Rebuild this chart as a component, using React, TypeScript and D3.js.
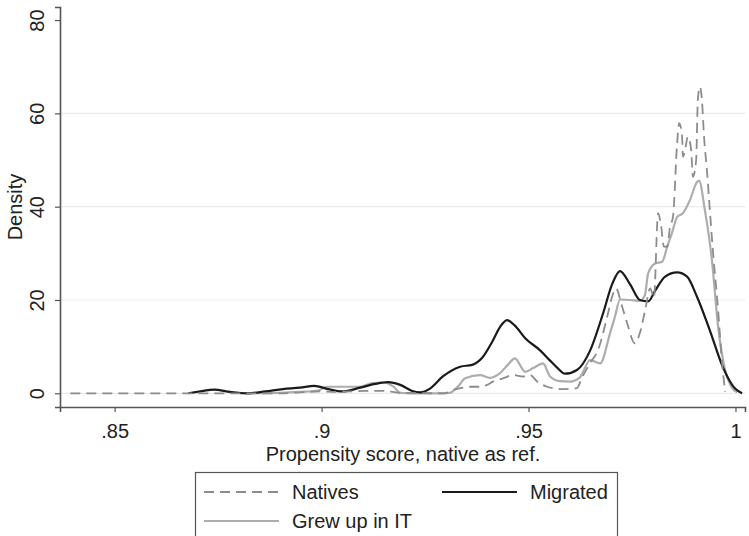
import React, { useEffect, useRef } from 'react';
import * as d3 from 'd3';

// density estimates: [propensity score, density]
const natives: [number, number][] = [
  [0.8393, 0], [0.8900, 0], [0.8948, 0.2], [0.8996, 0.4], [0.9033, 0.3], [0.9069, 0.4],
  [0.9105, 0.5], [0.9153, 0.5], [0.9190, 0.1], [0.9298, 0], [0.9315, 0.6], [0.9335, 1.1],
  [0.9359, 1.4], [0.9383, 1.4], [0.9400, 1.8], [0.9414, 2.5], [0.9438, 3.2], [0.9463, 3.9],
  [0.9487, 3.6], [0.9504, 3.9], [0.9521, 2.5], [0.9545, 1.4], [0.9559, 1.1], [0.9583, 0.9],
  [0.9617, 1.1], [0.9629, 3.3], [0.9649, 6.5], [0.9668, 9.3], [0.9690, 16.4], [0.9702, 20.7],
  [0.9711, 22.5], [0.9726, 18.6], [0.9738, 15.1], [0.9757, 10.7], [0.9769, 12.9], [0.9781, 17.5],
  [0.9794, 22.5], [0.9803, 20.5], [0.9813, 38.6], [0.9820, 36.0], [0.9827, 31.5], [0.9835, 31.4],
  [0.9842, 35.7], [0.9849, 37.8], [0.9859, 53.6], [0.9864, 57.9], [0.9871, 55.0], [0.9873, 50.7],
  [0.9878, 52.1], [0.9885, 55.0], [0.9893, 52.1], [0.9897, 46.4], [0.9905, 50.0], [0.9909, 62.8],
  [0.9914, 65.7], [0.9919, 62.8], [0.9924, 55.0], [0.9931, 47.8], [0.9938, 39.3], [0.9946, 30.0],
  [0.9958, 17.9], [0.9967, 7.1], [0.9975, 0.3],
];

const migrated: [number, number][] = [
  [0.8678, 0], [0.8707, 0.4], [0.8740, 0.8], [0.8779, 0.3], [0.8822, 0], [0.8864, 0.4],
  [0.8907, 0.9], [0.8948, 1.2], [0.8982, 1.6], [0.9016, 0.9], [0.9050, 0.4], [0.9093, 1.2],
  [0.9129, 2.0], [0.9161, 2.4], [0.9190, 1.8], [0.9219, 0.5], [0.9238, 0.2], [0.9262, 1.0],
  [0.9293, 3.6], [0.9335, 5.7], [0.9364, 6.1], [0.9388, 7.6], [0.9412, 11.0], [0.9431, 14.2],
  [0.9448, 15.7], [0.9467, 14.5], [0.9492, 11.8], [0.9528, 9.2], [0.9552, 7.0], [0.9569, 5.5],
  [0.9588, 4.2], [0.9617, 5.0], [0.9649, 9.2], [0.9680, 17.1], [0.9702, 23.4], [0.9721, 26.2],
  [0.9745, 23.4], [0.9769, 20.0], [0.9789, 19.7], [0.9806, 22.0], [0.9830, 25.0], [0.9859, 25.9],
  [0.9883, 25.0], [0.9907, 20.7], [0.9938, 13.5], [0.9970, 5.5], [0.9999, 1.0], [1.0016, 0],
];

const grewUp: [number, number][] = [
  [0.8803, 0], [0.8900, 0.1], [0.8948, 0.3], [0.8992, 0.6], [0.9013, 1.4], [0.9057, 1.4],
  [0.9093, 1.4], [0.9124, 2.2], [0.9153, 2.3], [0.9173, 1.5], [0.9190, 0.1], [0.9214, 0],
  [0.9286, 0], [0.9310, 0.1], [0.9330, 1.5], [0.9347, 3.2], [0.9383, 3.9], [0.9407, 3.3],
  [0.9431, 4.3], [0.9451, 6.2], [0.9467, 7.5], [0.9492, 4.6], [0.9511, 5.4], [0.9535, 6.4],
  [0.9552, 3.6], [0.9576, 2.6], [0.9600, 2.5], [0.9624, 3.4], [0.9649, 7.1], [0.9673, 6.4],
  [0.9697, 12.9], [0.9709, 16.5], [0.9721, 20.1], [0.9745, 20.0], [0.9769, 19.8], [0.9781, 21.0],
  [0.9789, 25.7], [0.9806, 27.8], [0.9823, 28.2], [0.9835, 31.4], [0.9847, 34.5], [0.9859, 37.8],
  [0.9873, 38.6], [0.9890, 41.4], [0.9907, 45.3], [0.9912, 45.6], [0.9926, 39.3], [0.9943, 28.6],
  [0.9958, 14.3], [0.9975, 5.0], [0.9989, 1.5], [1.0004, 0.2],
];

const xTicks = [0.85, 0.9, 0.95, 1];
const xTickLabels = ['.85', '.9', '.95', '1'];
const yTicks = [0, 20, 40, 60, 80];
const gridValues = [0, 20, 40, 60];

const legendItems = [
  { label: 'Natives', data: natives, color: '#8c8c8c', width: 1.8, dash: '10,6' },
  { label: 'Migrated', data: migrated, color: '#1a1a1a', width: 2.2, dash: null },
  { label: 'Grew up in IT', data: grewUp, color: '#adadad', width: 2.2, dash: null },
];

const W = 749, H = 536;
const FONT = '"Liberation Sans", Arial, sans-serif';

export default function App() {
  const ref = useRef<SVGSVGElement>(null);

  useEffect(() => {
    const svg = d3.select(ref.current);
    svg.selectAll('*').remove();

    const x = d3.scaleLinear().domain([0.8368, 1.0023]).range([60, 745]);
    const y = d3.scaleLinear().domain([-2.94, 82.8]).range([407, 7]);

    svg.append('rect').attr('width', W).attr('height', H).attr('fill', '#fff');

    // horizontal grid
    svg.append('g').selectAll('line')
      .data(gridValues)
      .enter().append('line')
        .attr('x1', x.range()[0]).attr('x2', x.range()[1])
        .attr('y1', d => y(d)).attr('y2', d => y(d))
        .attr('stroke', '#ebebeb').attr('stroke-width', 1.2);

    // density curves (grew up first, natives on top)
    const line = d3.line<[number, number]>()
      .x(d => x(d[0]))
      .y(d => y(d[1]))
      .curve(d3.curveMonotoneX);

    const order = [legendItems[2], legendItems[1], legendItems[0]];
    order.forEach(s => {
      svg.append('path')
        .datum(s.data)
        .attr('d', line)
        .attr('fill', 'none')
        .attr('stroke', s.color)
        .attr('stroke-width', s.width)
        .attr('stroke-dasharray', s.dash)
        .attr('stroke-linejoin', 'round');
    });

    // y axis
    const yAxis = svg.append('g')
      .attr('transform', 'translate(60,0)')
      .call(d3.axisLeft(y).tickValues(yTicks).tickSize(5).tickFormat(d3.format('d')));
    yAxis.select('.domain').attr('stroke', '#555').attr('stroke-width', 1.6);
    yAxis.selectAll('.tick line').attr('stroke', '#555').attr('stroke-width', 1.2);
    yAxis.selectAll('.tick text')
      .attr('font-family', FONT).attr('font-size', 20).attr('fill', '#222')
      .attr('x', 0).attr('dy', 0)
      .attr('text-anchor', 'middle')
      .attr('transform', 'translate(-16,0) rotate(-90)');

    // x axis
    const xAxis = svg.append('g')
      .attr('transform', 'translate(0,407)')
      .call(d3.axisBottom(x).tickValues(xTicks).tickSize(5)
        .tickFormat((d, i) => xTickLabels[i]));
    xAxis.select('.domain').attr('stroke', '#555').attr('stroke-width', 1.6);
    xAxis.selectAll('.tick line').attr('stroke', '#555').attr('stroke-width', 1.2);
    xAxis.selectAll('.tick text')
      .attr('font-family', FONT).attr('font-size', 20).attr('fill', '#222')
      .attr('y', 31).attr('dy', 0);

    // axis titles
    svg.append('text')
      .attr('x', 403).attr('y', 461)
      .attr('text-anchor', 'middle')
      .attr('font-family', FONT).attr('font-size', 20).attr('fill', '#222')
      .text('Propensity score, native as ref.');
    svg.append('text')
      .attr('transform', 'translate(22,207) rotate(-90)')
      .attr('text-anchor', 'middle')
      .attr('font-family', FONT).attr('font-size', 20).attr('fill', '#222')
      .text('Density');

    // legend
    const lg = svg.append('g');
    lg.append('rect')
      .attr('x', 195.5).attr('y', 472.5).attr('width', 422).attr('height', 90)
      .attr('fill', '#fff').attr('stroke', '#555').attr('stroke-width', 1.2);
    const slots = [
      { sx: 204, tx: 292, cy: 492 },
      { sx: 442, tx: 530, cy: 492 },
      { sx: 204, tx: 292, cy: 521 },
    ];
    legendItems.forEach((s, i) => {
      const p = slots[i];
      lg.append('line')
        .attr('x1', p.sx).attr('x2', p.sx + 75)
        .attr('y1', p.cy).attr('y2', p.cy)
        .attr('stroke', s.color).attr('stroke-width', s.width)
        .attr('stroke-dasharray', s.dash);
      lg.append('text')
        .attr('x', p.tx).attr('y', p.cy + 7)
        .attr('font-family', FONT).attr('font-size', 20).attr('fill', '#222')
        .text(s.label);
    });
  }, []);

  return (
    <div style={{ position: 'absolute', left: 0, top: 0 }}>
      <svg ref={ref} width={W} height={H} style={{ display: 'block' }} />
    </div>
  );
}
